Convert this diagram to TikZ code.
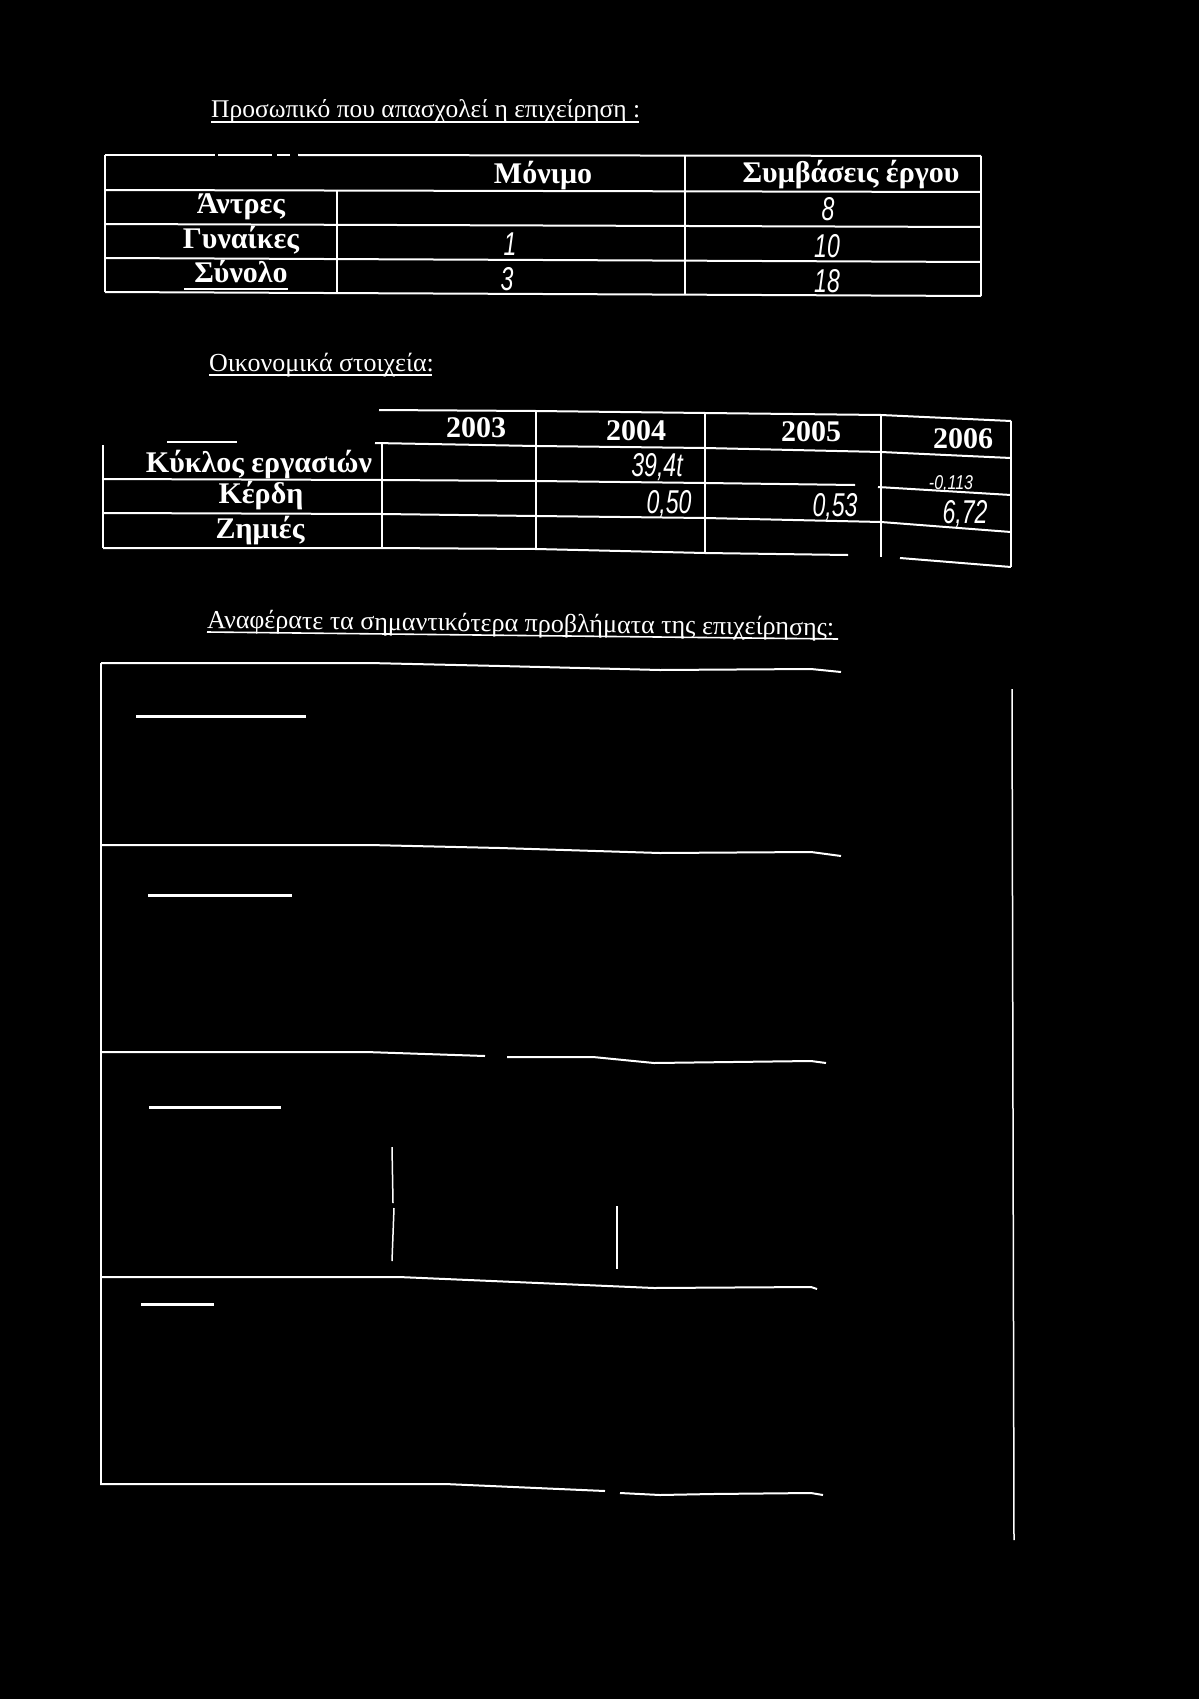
\documentclass[tikz,border=0pt]{standalone}
\usepackage{fontspec}
\setmainfont{Liberation Serif}
\newfontfamily\hwfamily{Liberation Sans}
\newcommand\ttlfont{\fontsize{25.5}{28}\selectfont}
\newcommand\tabfont{\bfseries\fontsize{30}{33}\selectfont}
\newcommand\hwfont{\hwfamily\itshape\fontsize{33}{35}\selectfont}
\begin{document}
\begin{tikzpicture}[x=1pt,y=-1pt,
  ttl/.style={text=white,font=\ttlfont,inner sep=0,anchor=base west},
  lbl/.style={text=white,font=\tabfont,inner sep=0,anchor=base},
  hw/.style={text=white,font=\hwfont,inner sep=0,anchor=center},
  rule/.style={draw=white,line width=2pt},
  thinrule/.style={draw=white,line width=1.5pt},
  uline/.style={draw=white,line width=1.6pt},
  blank/.style={draw=white,line width=3pt}]
\fill[black] (0,0) rectangle (1199,1699);
\useasboundingbox (0,0) rectangle (1199,1699);

% ---------- Title 1 ----------
\node[ttl] (t1) at (211,118) {Προσωπικό που απασχολεί η επιχείρηση :};
\draw[uline] (211,122) -- (639,122);

% ---------- Table 1 ----------
\draw[rule] (105,155) -- (215,155);
\draw[rule] (218,155) -- (272,155);
\draw[rule] (277,155) -- (290,155);
\draw[rule] (298,155) -- (981,156);
\draw[rule] (105,190) -- (981,192);
\draw[rule] (105,224) -- (981,227);
\draw[rule] (105,258) -- (981,262);
\draw[rule] (105,292) -- (981,296);
\draw[rule] (105,155) -- (105,292);
\draw[rule] (337,190) -- (337,293);
\draw[rule] (685,155) -- (685,294);
\draw[rule] (981,156) -- (981,296);

\node[lbl] (h1) at (543,184) {Μόνιμο};
\node[lbl] (h2) at (851,183) {Συμβάσεις έργου};
\node[lbl] (r1) at (241,214) {Άντρες};
\node[lbl] (r2) at (241,248) {Γυναίκες};
\node[lbl] (r3) at (241,282) {Σύνολο};
\draw[uline] (184,289) -- (288,289);

\node[hw] (v1) at (828,209) {\scalebox{0.7}[1]{8}};
\node[hw] (v2) at (510,244) {\scalebox{0.7}[1]{1}};
\node[hw] (v3) at (827,246) {\scalebox{0.7}[1]{10}};
\node[hw] (v4) at (507,279) {\scalebox{0.7}[1]{3}};
\node[hw] (v5) at (827,281) {\scalebox{0.7}[1]{18}};

% ---------- Title 2 ----------
\node[ttl,font=\fontsize{26}{28}\selectfont] (t2) at (209,371) {Οικονομικά στοιχεία:};
\draw[uline] (209,375) -- (432,375);

% ---------- Table 2 ----------
\draw[rule] (167,442) -- (237,442);
\draw[rule] (379,410) -- (536,411) -- (705,413) -- (881,415) -- (1011,421);
\draw[rule] (375,443) -- (536,446) -- (705,448) -- (881,452) -- (1011,458);
\draw[rule] (103,479) -- (382,480) -- (536,481) -- (705,483) -- (855,485);
\draw[rule] (878,487) -- (1011,495);
\draw[rule] (103,513) -- (382,514) -- (536,516) -- (705,518) -- (881,522) -- (1011,532);
\draw[rule] (103,548) -- (382,548) -- (536,549) -- (705,553) -- (848,555);
\draw[rule] (900,558) -- (1011,567);
\draw[rule] (103,445) -- (103,548);
\draw[rule] (382,443) -- (382,547);
\draw[rule] (536,410) -- (536,549);
\draw[rule] (705,413) -- (705,553);
\draw[rule] (881,415) -- (881,557);
\draw[rule] (1011,421) -- (1011,567);

\node[lbl] (y3) at (476,437) {2003};
\node[lbl] (y4) at (636,440) {2004};
\node[lbl] (y5) at (811,441) {2005};
\node[lbl] (y6) at (963,448) {2006};
\node[lbl] (k1) at (259,472) {Κύκλος εργασιών};
\node[lbl] (k2) at (261,503) {Κέρδη};
\node[lbl] (k3) at (260,538) {Ζημιές};

\node[hw] (w1) at (657,467) {\scalebox{0.7}[1]{39,4t}};
\node[hw] (w2) at (669,504) {\scalebox{0.7}[1]{0,50}};
\node[hw] (w3) at (835,507) {\scalebox{0.7}[1]{0,53}};
\node[hw,font=\hwfamily\itshape\fontsize{20}{22}\selectfont] (w4) at (951,484) {\scalebox{0.8}[1]{-0,113}};
\node[hw] (w5) at (965,514) {\scalebox{0.7}[1]{6,72}};

% ---------- Title 3 ----------
\node[ttl,font=\fontsize{26}{29}\selectfont,rotate=-0.7] (t3) at (207,628) {Αναφέρατε τα σημαντικότερα προβλήματα της επιχείρησης:};
\draw[uline] (207,632) -- (838,639);

% ---------- Problems box ----------
\draw[rule] (101,663) -- (369,663) -- (500,666) -- (660,670) -- (811,669) -- (841,672);
\draw[rule] (101,845) -- (369,845) -- (500,848) -- (660,853) -- (811,852) -- (841,856);
\draw[rule] (101,1052) -- (366,1052) -- (485,1056);
\draw[rule] (507,1057) -- (593,1057) -- (654,1063) -- (811,1061) -- (826,1063);
\draw[rule] (101,1277) -- (399,1277) -- (654,1288) -- (811,1287) -- (817,1289);
\draw[rule] (100,1484) -- (445,1484) -- (605,1491);
\draw[rule] (620,1493) -- (660,1495) -- (712,1494) -- (811,1493) -- (823,1495);
\draw[thinrule] (101,663) -- (101,1484);
\draw[thinrule] (1012,689) -- (1014,1540);

\draw[blank] (136,716) -- (306,716);
\draw[blank] (148,895) -- (292,895);
\draw[blank] (149,1107) -- (281,1107);
\draw[blank] (141,1304) -- (214,1304);

\draw[thinrule] (392,1147) -- (393,1203);
\draw[thinrule] (394,1208) -- (392,1261);
\draw[thinrule] (617,1206) -- (617,1269);
\end{tikzpicture}
\end{document}
